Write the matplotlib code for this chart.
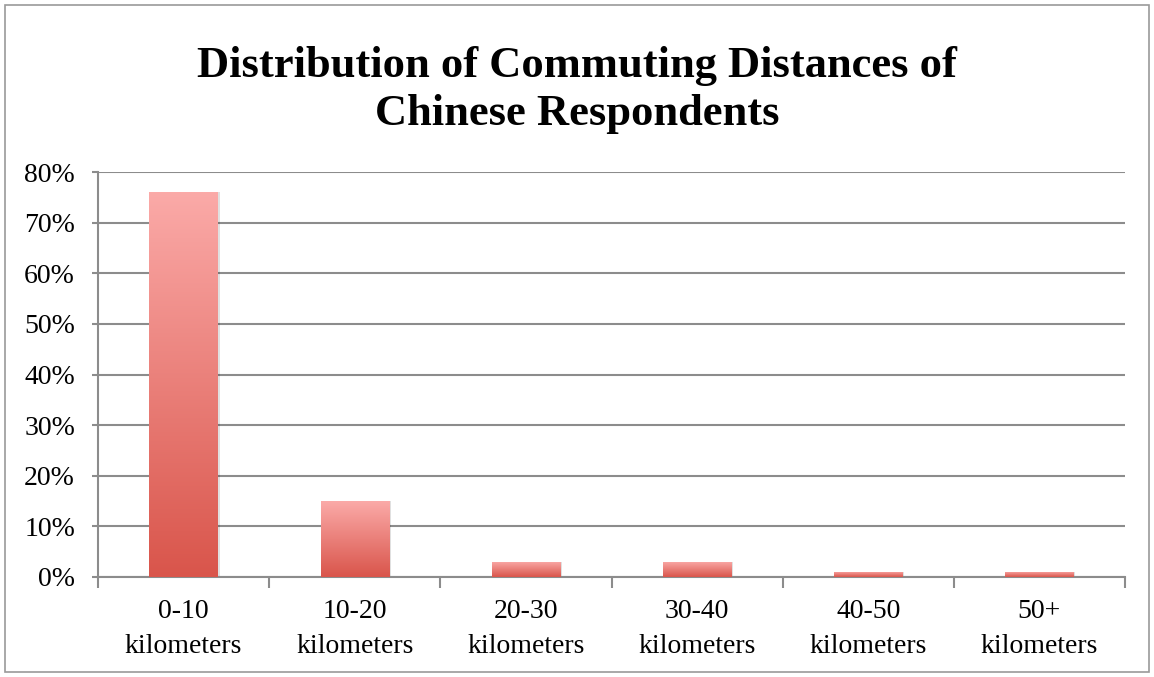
import numpy as np
import matplotlib.pyplot as plt
from matplotlib.colors import LinearSegmentedColormap
from matplotlib.patches import Rectangle

# Data
categories = ['0-10\nkilometers', '10-20\nkilometers', '20-30\nkilometers',
              '30-40\nkilometers', '40-50\nkilometers', '50+\nkilometers']
shares = [76, 15, 3, 3, 1, 1]
y_ticks = [0, 10, 20, 30, 40, 50, 60, 70, 80]

fig = plt.figure(figsize=(11.54, 6.77), dpi=100)
ax = fig.add_axes([98 / 1154, 100 / 677, (1125 - 98) / 1154, (577 - 172) / 677])

# Outer frame of the chart
fig.patches.append(Rectangle((5 / 1154, 5 / 677), 1144 / 1154, 667 / 677,
                             transform=fig.transFigure, fill=False,
                             edgecolor='#9a9a9a', linewidth=1.2))

x = np.arange(len(categories))
bars = ax.bar(x, shares, width=0.4, color='none', edgecolor='none', zorder=3)

# Vertical gradient fill per bar
cmap = LinearSegmentedColormap.from_list('bar', ['#d9554b', '#fbaaa8'])
grad = np.linspace(0, 1, 256).reshape(-1, 1)
for b in bars:
    bx, by = b.get_x(), b.get_y()
    w, h = b.get_width(), b.get_height()
    # light shadow
    ax.add_patch(Rectangle((bx + 0.01, by), w, h, facecolor='#000000',
                           alpha=0.12, edgecolor='none', zorder=2))
    im = ax.imshow(grad, cmap=cmap, origin='lower', aspect='auto',
                   extent=(bx, bx + w, by, by + h), zorder=3)
    im.set_clip_path(b)

ax.set_xlim(-0.5, len(categories) - 0.5)
ax.set_ylim(0, 80)
ax.set_yticks(y_ticks)
ax.set_yticklabels([f'{v}%' for v in y_ticks])
ax.set_xticks(x)
ax.set_xticklabels(categories)
ax.set_xticks(np.arange(len(categories) + 1) - 0.5, minor=True)

ax.grid(axis='y', color='#8c8c8c', linewidth=1.5, zorder=0)
ax.set_axisbelow(True)
for s in ['top', 'right']:
    ax.spines[s].set_visible(False)
for s in ['left', 'bottom']:
    ax.spines[s].set_color('#8c8c8c')
    ax.spines[s].set_linewidth(1.5)

ax.tick_params(axis='y', length=4.5, width=1.5, color='#8c8c8c', pad=12,
               labelsize=20, labelcolor='black')
ax.tick_params(axis='x', which='major', length=0, pad=16, labelsize=20)
ax.tick_params(axis='x', which='minor', length=8, width=1.5, color='#8c8c8c')
for lbl in ax.get_yticklabels():
    lbl.set_family('Liberation Serif')
for lbl in ax.get_xticklabels():
    lbl.set_family('Liberation Serif')
    lbl.set_linespacing(1.5)

fig.text(0.5, 1 - 90 / 677, 'Distribution of Commuting Distances of\nChinese Respondents',
         ha='center', va='center', fontsize=32, fontweight='bold',
         family=['Liberation Serif', 'DejaVu Serif'], linespacing=1.25)

fig.savefig('out.png', dpi=100)
